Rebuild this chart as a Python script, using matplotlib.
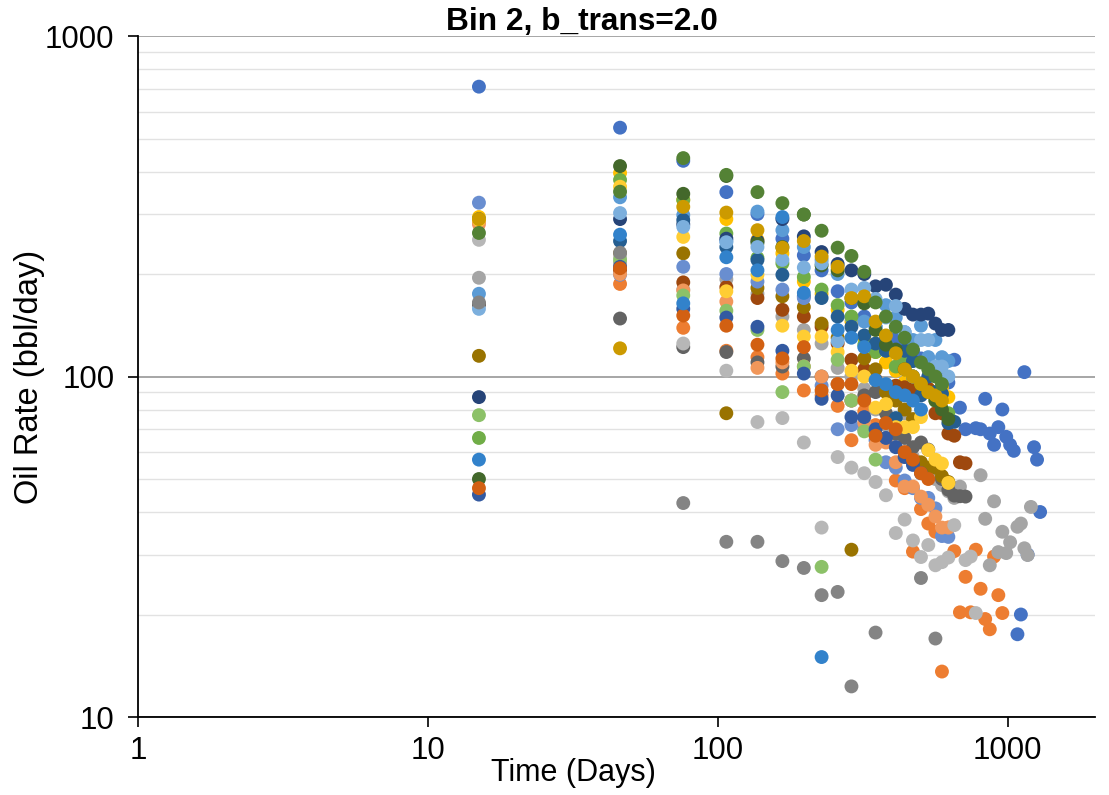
import numpy as np
import matplotlib
matplotlib.use('Agg')
import matplotlib.pyplot as plt
from matplotlib.ticker import LogLocator, NullLocator

plt.rcParams['font.family'] = ['Liberation Sans', 'DejaVu Sans']

# producing days (mid-month) shared by all wells
days = [15, 46, 76, 107, 137, 167, 198, 228, 259, 289, 320, 350, 380, 411, 441,
        471, 502, 532, 563, 593, 624, 654, 684, 715, 745, 776, 806, 836, 867, 897,
        928, 958, 988, 1019, 1049, 1080, 1110, 1141, 1171, 1202, 1232, 1262, 1293]

# oil rate per well (bbl/day), None = no point
w01 = [710, 538, 430, 348, 300, 254, 227, 205, 178, 165, 150, 140, 130, 129, 122, 119, 113, 110, 105, 100,
       96, 112, 81, 70, None, 70.5, 70, 86, 68, 63, 71, 80, 66.5, 63, 60.5, 17.5, 20, 103, 30, None, 62, 57, 40]
w02 = [285, 187, 139, 119, 114, 102, 91, 88, 82, 65, 79, 72, 66, 49.5, 47, 30.6, 40.8, 37, 35, 13.6,
       36, 30.7, 20.3, 25.8, 20.3, 31, 23.8, 19.4, 18.1, 29.6, 22.8, 20.2]
w03 = [195, 215, 180, 193, 175, 150, 137, 125, 106, 100, 92, 80, 72, 65, 78, 58, 55, 52, 50, 48,
       46, 44, 47.5, None, None, None, 51.3, 38.2, 27.9, 43, 30.5, 35, 30.3, 32.6, None, 36.2, 37, 31.3, 29.9, 41.4]
w04 = [294, 396, 330, 290, 252, 230, 190, 175, 157, 145, 130, 118, 110, 104, 96, 100, 95, 92, 90, 93, 87]
w05 = [175, 336, 298, 250, 305, 269, 240, 220, 200, 149, 145, 140, 162, 149, 135, 128, 141, 114, 128, 114, 111]
w06 = [66, 378, 330, 263, 223, 215, 196, 180, 162, 150, 124, 118, 124, 107, 111, 100, 95, 90, 85, 80, 78]
w07 = [87, 290, 280, 254, 250, 290, 258, 232, 214, 205, 200, 184, 186, 174, 158, 152, 152, 153, 143, 137, 137]
w08 = [163, 205, 189, 183, 170, 157, 150, 140, 125, 112, 105, 98, 93, 94, 93, 93, 93, 92, 78, 78, 68, 67, 56, 55.6]
w09 = [163, 148, 122, 118, 110, 107, 113, 100, 95, 85, 88, 90, 78, 68, 66, 62, 64, 61, 55, 50, 46.5, 44.7, 44.5, 44.4]
w10 = [115, 230, 230, 78, 182, 172, 160, 143, 130, 31, 113, 105, 90, 85, 80, 75, 56, 54, 54, 51, 49]
w11 = [290, 250, 288, 240, 220, 199, 172, 170, 150, 140, 132, 125, 119, 75.5, 119, 111, 88, 100, 90, 89, 73, 73.6]
w12 = [50, 415, 344, 388, 247, 240, 299, 212, 205, 170, 164, 137, 124, 120, 105, 100, 95, 90, 85, 80, 75]
w13 = [324, 199, 210, 200, 190, 180, 170, 94, 70, 72, 70, 65, 56, 54, 49.5, 47, 44, 44, 41, 34, 33.8]
w14 = [280, 200, 179, 166, 106, 110, 107, 100, 95, 85, 73, 63, 64, 56, 47.5, 47.5, 44.4, 42, 38.8, 36, 36]
w15 = [252, 225, 125, 104, 73.5, 75.5, 64, 36, 58, 54, 52, 49, 44.8, 34.7, 38, 33, 29.5, 32, 27.9, 28.5,
       29.4, 36.6, None, 28.9, 29.6, 20.2]
w16 = [288, 361, 257, 178, 199, 141, 131, 131, 118, 104, 100, 81, 83, 71, 71, 71, 76, 60.8, 57, 55.5, 48.7]
w17 = [158, 302, 275, 248, 240, 220, 209, 215, 127, 180, 182, 169, 149, 161, 135, 100, 128, 128, 107, 107, 100]
w18 = [77, 220, 173, 156, 137, 90, 107, 27.6, 112, 85, 69, 57]
w19 = [45, 210, 158, 149, 140, 119, 102, 86, 88, 76, 76, 70, 66, 62, 58, 55, 52]
w20 = [47, 208, 151, 141, 124, 113, 122, 91, 95, 95, 85, 67, 73, 70, 60, 57, 52, 50]
w21 = [165, 231, 42.5, 32.7, 32.7, 28.7, 27.4, 22.8, 23.3, 12.3, None, 17.7, None, None, None, None, 25.6, None, 17]
w22 = [290, 121, 315, 303, 269, 239, 250, 225, 210, 170, 172, 145, 132, 117, 105, 100, 95, 90, 88, 85]
w23 = [57, 261, 164, 224, 205, 294, 176, 15, 137, 130, 122, 97.6, 95, 90, 88, 85, 80]
w24 = [264, 349, 438, 391, 348, 323, 299, 268, 239, 226, 203, 165, 150, 140, 130, 120, 110, 105, 100, 95]

wells = [w01, w02, w03, w04, w05, w06, w07, w08, w09, w10, w11, w12,
         w13, w14, w15, w16, w17, w18, w19, w20, w21, w22, w23, w24]
colors = ['#4472C4', '#ED7D31', '#A5A5A5', '#FFC000', '#5B9BD5', '#70AD47',
          '#264478', '#9E480E', '#636363', '#997300', '#255E91', '#43682B',
          '#698ED0', '#F1975A', '#B7B7B7', '#FFCD33', '#7CAFDD', '#8CC168',
          '#335AA1', '#D26012', '#848484', '#CC9A00', '#3282CB', '#548235']

fig = plt.figure(figsize=(11.09, 7.95), dpi=100)
ax = fig.add_axes([0.1244, 0.0981, 0.8630, 0.8566])

for vals, c in zip(wells, colors):
    y = np.array(vals, dtype=float)
    x = np.array(days[:len(y)], dtype=float)
    ok = ~np.isnan(y)
    ax.scatter(x[ok], y[ok], s=100, color=c, edgecolors='none', zorder=3)

ax.set_xscale('log')
ax.set_yscale('log')
ax.set_xlim(1, 2000)
ax.set_ylim(10, 1000)

ax.set_xticks([1, 10, 100, 1000])
ax.set_xticklabels(['1', '10', '100', '1000'])
ax.set_yticks([10, 100, 1000])
ax.set_yticklabels(['10', '100', '1000'])
ax.xaxis.set_minor_locator(NullLocator())
ax.yaxis.set_minor_locator(LogLocator(base=10, subs=range(2, 10)))

ax.grid(axis='y', which='major', color='#A6A6A6', lw=1.4, zorder=0)
ax.grid(axis='y', which='minor', color='#E2E2E2', lw=1.0, zorder=0)
ax.set_axisbelow(True)

ax.tick_params(axis='both', which='major', length=7, width=1.2, color='black',
               labelsize=22.5, pad=10)
ax.tick_params(axis='y', which='minor', length=0)
ax.tick_params(axis='x', pad=7)

for side in ['top', 'right']:
    ax.spines[side].set_visible(False)
for side in ['left', 'bottom']:
    ax.spines[side].set_color('black')
    ax.spines[side].set_linewidth(1.3)

ax.set_ylabel('Oil Rate (bbl/day)', fontsize=23.5, labelpad=0)
fig.text(0.517, 0.028, 'Time (Days)', ha='center', va='center', fontsize=22)
fig.text(0.525, 0.972, 'Bin 2, b_trans=2.0', ha='center', va='center',
         fontsize=22.8, fontweight='bold')

fig.savefig('out.png', dpi=100)
